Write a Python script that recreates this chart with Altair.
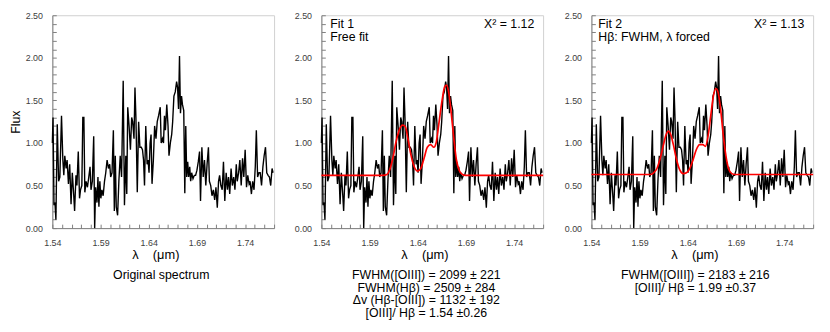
import altair as alt
import pandas as pd

# ---- data ----
wavelength = [
    1.5400, 1.5407, 1.5417, 1.5427, 1.5437, 1.5451, 1.5465, 1.5478, 1.5495, 1.5509,
    1.5519, 1.5529, 1.5543, 1.5553, 1.5567, 1.5580, 1.5594, 1.5607, 1.5621, 1.5631,
    1.5645, 1.5655, 1.5669, 1.5682, 1.5692, 1.5706, 1.5716, 1.5727, 1.5737, 1.5750,
    1.5764, 1.5778, 1.5791, 1.5801, 1.5815, 1.5829, 1.5839, 1.5849, 1.5863, 1.5873,
    1.5883, 1.5893, 1.5903, 1.5914, 1.5927, 1.5941, 1.5954, 1.5968, 1.5982, 1.5995,
    1.6005, 1.6019, 1.6033, 1.6043, 1.6053, 1.6063, 1.6077, 1.6090, 1.6104, 1.6118,
    1.6135, 1.6148, 1.6162, 1.6172, 1.6182, 1.6196, 1.6210, 1.6223, 1.6233, 1.6247,
    1.6257, 1.6267, 1.6281, 1.6295, 1.6308, 1.6322, 1.6335, 1.6346, 1.6356, 1.6369,
    1.6383, 1.6393, 1.6403, 1.6414, 1.6424, 1.6434, 1.6448, 1.6461, 1.6475, 1.6488,
    1.6502, 1.6519, 1.6529, 1.6542, 1.6553, 1.6563, 1.6573, 1.6587, 1.6600, 1.6610,
    1.6624, 1.6638, 1.6648, 1.6661, 1.6675, 1.6689, 1.6699, 1.6709, 1.6719, 1.6729,
    1.6740, 1.6750, 1.6763, 1.6774, 1.6784, 1.6794, 1.6804, 1.6814, 1.6825, 1.6835,
    1.6845, 1.6859, 1.6873, 1.6886, 1.6900, 1.6914, 1.6927, 1.6937, 1.6951, 1.6965,
    1.6978, 1.6992, 1.7005, 1.7019, 1.7029, 1.7043, 1.7056, 1.7070, 1.7084, 1.7097,
    1.7111, 1.7124, 1.7135, 1.7148, 1.7162, 1.7175, 1.7189, 1.7203, 1.7216, 1.7227,
    1.7240, 1.7254, 1.7267, 1.7281, 1.7294, 1.7308, 1.7318, 1.7332, 1.7345, 1.7359,
    1.7373, 1.7386, 1.7400, 1.7414, 1.7427, 1.7441, 1.7451, 1.7465, 1.7478, 1.7492,
    1.7505, 1.7516, 1.7529, 1.7543, 1.7556, 1.7570, 1.7584, 1.7597, 1.7611, 1.7624,
    1.7638, 1.7652, 1.7665, 1.7679, 1.7689,
]
flux = [
    1.00, 1.30, 0.27, 0.30, 0.10, 1.22, 0.55, 0.60, 1.32, 0.80,
    0.62, 0.85, 0.70, 0.80, 0.52, 0.75, 0.28, 0.65, 0.40, 0.20,
    0.62, 0.50, 0.90, 0.35, 0.45, 0.50, 1.30, 1.30, 0.42, 0.55,
    0.48, 0.60, 0.72, 0.45, 0.55, 1.08, 0.00, 0.48, 0.30, 0.60,
    0.25, 0.55, 0.35, 0.45, 0.38, 0.55, 0.65, 0.80, 0.70, 0.75,
    0.60, 0.65, 1.15, 0.20, 0.85, 0.25, 0.15, 0.55, 0.85, 0.60,
    1.73, 0.27, 0.85, 0.40, 1.42, 1.20, 0.92, 1.30, 1.25, 1.05,
    1.65, 1.30, 0.42, 1.25, 0.95, 0.95, 0.92, 0.80, 0.50, 1.20,
    0.75, 0.80, 0.65, 1.00, 1.10, 0.52, 0.80, 1.20, 1.05, 1.25,
    1.32, 1.42, 1.00, 1.05, 1.00, 1.32, 1.15, 1.45, 1.20, 0.85,
    1.00, 1.10, 1.25, 1.55, 1.60, 1.72, 1.65, 1.40, 2.02, 1.35,
    1.55, 1.45, 1.38, 0.41, 1.20, 0.60, 0.78, 0.60, 0.72, 0.55,
    0.65, 0.58, 0.62, 0.62, 0.68, 0.78, 0.90, 0.32, 0.95, 0.60,
    0.80, 0.50, 0.75, 0.95, 0.55, 0.50, 0.38, 0.45, 0.33, 0.48,
    0.24, 0.55, 0.62, 0.50, 0.45, 0.78, 0.32, 0.65, 0.45, 0.60,
    0.40, 0.70, 0.50, 0.60, 0.45, 0.75, 0.55, 0.65, 0.80, 0.50,
    0.82, 0.60, 0.92, 0.48, 0.62, 0.52, 0.55, 0.40, 0.55, 0.45,
    0.72, 1.15, 0.60, 0.65, 0.65, 0.50, 0.72, 0.85, 0.95, 0.65,
    0.62, 0.60, 0.50, 0.70, 0.65,
]

fit1_wavelength = [1.5400, 1.6000, 1.6039, 1.6080, 1.6107, 1.6141, 1.6176, 1.6210, 1.6244, 1.6271,
                   1.6298, 1.6329, 1.6363, 1.6397, 1.6431, 1.6465, 1.6499, 1.6533, 1.6567, 1.6590,
                   1.6618, 1.6652, 1.6679, 1.6699, 1.6720, 1.6747, 1.6774, 1.6801, 1.6829, 1.6863,
                   1.6897, 1.7700]
fit1_flux = [0.62, 0.62, 0.62, 0.63, 0.68, 0.82, 1.02, 1.16, 1.21, 1.19,
             1.05, 0.86, 0.72, 0.67, 0.70, 0.82, 0.95, 0.98, 0.95, 1.00,
             1.22, 1.50, 1.66, 1.68, 1.60, 1.35, 1.05, 0.80, 0.68, 0.63,
             0.62, 0.62]

fit2_wavelength = [1.5400, 1.6005, 1.6046, 1.6080, 1.6114, 1.6148, 1.6175, 1.6199, 1.6223, 1.6250,
                   1.6284, 1.6318, 1.6352, 1.6386, 1.6420, 1.6454, 1.6488, 1.6522, 1.6556, 1.6583,
                   1.6610, 1.6638, 1.6665, 1.6692, 1.6713, 1.6740, 1.6767, 1.6795, 1.6822, 1.6856,
                   1.6890, 1.7700]
fit2_flux = [0.63, 0.63, 0.65, 0.70, 0.82, 0.98, 1.10, 1.14, 1.10, 0.98,
             0.80, 0.68, 0.64, 0.65, 0.70, 0.80, 0.92, 0.98, 0.98, 0.96,
             1.08, 1.32, 1.55, 1.64, 1.60, 1.40, 1.10, 0.85, 0.70, 0.64,
             0.63, 0.63]

x_major = [1.54, 1.59, 1.64, 1.69, 1.74]
x_minor = [1.54, 1.55, 1.56, 1.57, 1.58, 1.59, 1.60, 1.61, 1.62, 1.63, 1.64, 1.65,
           1.66, 1.67, 1.68, 1.69, 1.70, 1.71, 1.72, 1.73, 1.74, 1.75, 1.76, 1.77]
y_major = [0.0, 0.5, 1.0, 1.5, 2.0, 2.5]
y_minor = [0.0, 0.1, 0.2, 0.3, 0.4, 0.5, 0.6, 0.7, 0.8, 0.9, 1.0, 1.1, 1.2, 1.3,
           1.4, 1.5, 1.6, 1.7, 1.8, 1.9, 2.0, 2.1, 2.2, 2.3, 2.4, 2.5]

panel_captions = [
    ["Original spectrum"],
    ["FWHM([OIII])  = 2099 \u00b1 221", "FWHM(H\u03b2) = 2509 \u00b1 284",
     "\u0394v (H\u03b2-[OIII])  = 1132 \u00b1 192", "[OIII]/  H\u03b2 = 1.54 \u00b10.26"],
    ["FWHM([OIII])  = 2183 \u00b1 216", "[OIII]/  H\u03b2 = 1.99 \u00b10.37"],
]
panel_labels = [None, "Fit 1\nFree fit", "Fit 2\nH\u03b2: FWHM, \u03bb forced"]
panel_chi2 = [None, "X\u00b2 = 1.12", "X\u00b2 = 1.13"]

FONT = "Liberation Sans"
W, H = 225, 216

spec_df = pd.DataFrame({"wl": wavelength, "flux": flux})
fits = [None,
        pd.DataFrame({"wl": fit1_wavelength, "flux": fit1_flux}),
        pd.DataFrame({"wl": fit2_wavelength, "flux": fit2_flux})]

xs = alt.Scale(domain=[1.54, 1.77], nice=False, zero=False)
ys = alt.Scale(domain=[0, 2.5], nice=False, zero=False)


def make_panel(i):
    x_axis = alt.Axis(values=x_major, format=".2f", ticks=False, domain=True,
                      domainColor="#7f7f7f", grid=False, labelFlush=False,
                      labelFont=FONT, labelFontSize=9, labelColor="#404040",
                      labelPadding=10.5, title="\u03bb\u00a0\u00a0\u00a0 (\u03bcm)",
                      titleFont=FONT, titleFontSize=13, titleFontWeight="normal",
                      titleColor="#000000", titlePadding=1, titleX=W / 2 - 8,
                      orient="bottom")
    y_axis = alt.Axis(values=y_major, format=".2f", ticks=False, domain=True,
                      domainColor="#7f7f7f", grid=False,
                      labelFont=FONT, labelFontSize=9, labelColor="#404040",
                      labelPadding=10,
                      title="Flux" if i == 0 else None,
                      titleFont=FONT, titleFontSize=12.5, titleFontWeight="normal",
                      titleColor="#000000", titlePadding=3, orient="left")
    spec = alt.Chart(spec_df).mark_line(color="#000000", strokeWidth=1.4).encode(
        x=alt.X("wl:Q", scale=xs, axis=x_axis),
        y=alt.Y("flux:Q", scale=ys, axis=y_axis),
    )
    tick_layer = alt.Chart(spec_df).mark_point(opacity=0).encode(
        x=alt.X("wl:Q", scale=xs,
                axis=alt.Axis(values=x_minor, labels=False, domain=False, ticks=True,
                              tickSize=4, offset=-4, tickColor="#7f7f7f", grid=False,
                              title=None, orient="bottom")),
        y=alt.Y("flux:Q", scale=ys,
                axis=alt.Axis(values=y_minor, labels=False, domain=False, ticks=True,
                              tickSize=4, offset=-4, tickColor="#7f7f7f", grid=False,
                              title=None, orient="left")),
    )
    layers = [spec, tick_layer]
    if fits[i] is not None:
        layers.append(
            alt.Chart(fits[i]).mark_line(color="#ff0000", strokeWidth=1.7,
                                         interpolate="monotone").encode(
                x=alt.X("wl:Q", scale=xs, axis=None),
                y=alt.Y("flux:Q", scale=ys, axis=None),
            )
        )
    if panel_labels[i] is not None:
        one = pd.DataFrame({"k": [0]})
        layers.append(
            alt.Chart(one).mark_text(text=panel_labels[i], lineBreak="\n", lineHeight=14,
                                     align="left", baseline="middle", font=FONT,
                                     fontSize=12.5, color="#000000").encode(
                x=alt.value(9 if i == 1 else 7), y=alt.value(8.5))
        )
        layers.append(
            alt.Chart(one).mark_text(text=panel_chi2[i], align="right", baseline="middle",
                                     font=FONT, fontSize=12.5, color="#000000").encode(
                x=alt.value(216), y=alt.value(8.5))
        )
    dx = [-2, -6, -7][i]
    return alt.layer(*layers).resolve_axis(x="independent", y="independent").properties(
        width=W, height=H,
        title=alt.TitleParams(text=panel_captions[i], orient="bottom", anchor="middle",
                              font=FONT, fontSize=12.5, fontWeight="normal",
                              color="#000000", lineHeight=13, offset=8, dx=dx),
    )


chart = alt.hconcat(*[make_panel(i) for i in range(3)], spacing=16).properties(
    padding={"left": 0, "top": 0, "right": 5, "bottom": 5}
).configure_view(stroke="#d0d0d0", strokeWidth=1)

chart.save("out.html", embed_options={"renderer": "svg", "actions": False})
